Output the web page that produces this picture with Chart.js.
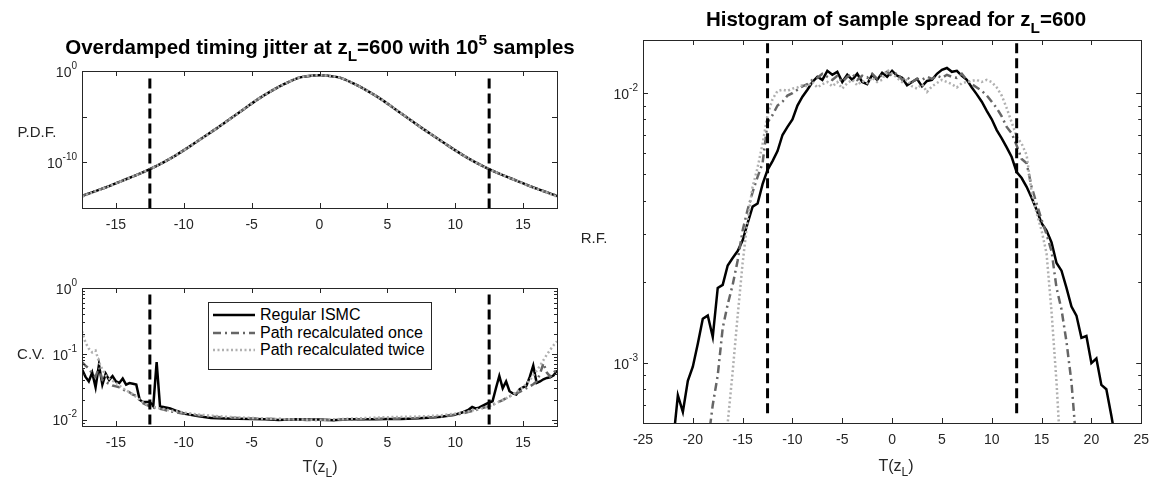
<!DOCTYPE html>
<html><head><meta charset="utf-8">
<script src="https://cdn.jsdelivr.net/npm/chart.js@4.4.1/dist/chart.umd.min.js"></script>
<style>
html,body{margin:0;padding:0;background:#fff;}
#wrap{position:relative;width:1158px;height:485px;overflow:hidden;font-family:"Liberation Sans",Arial,Helvetica,sans-serif;color:#000;}
#wrap canvas{position:absolute;left:0;top:0;}
.lbl{position:absolute;white-space:nowrap;transform:translate(-50%,-50%);line-height:1;}
.title{font-weight:bold;color:#000;font-size:20.5px;}
.ylab{font-size:15px;color:#262626;}
.xlab{font-size:16px;color:#262626;}
.sub{font-size:0.75em;position:relative;top:0.45em;}
.sup{font-size:0.75em;position:relative;top:-0.6em;}
#legend{position:absolute;left:208px;top:302px;width:222px;height:66px;border:1px solid #262626;background:#fff;font-size:16px;color:#000;z-index:5;}
.row{position:absolute;left:0;width:222px;height:18px;}
.row svg{position:absolute;left:4px;top:0;}
.row span{position:absolute;left:51px;top:0;white-space:nowrap;line-height:18px;}
</style></head>
<body><div id="wrap">
<canvas id="cA" width="1158" height="485"></canvas>
<canvas id="cB" width="1158" height="485"></canvas>
<canvas id="cC" width="1158" height="485"></canvas>

<div class="lbl title" style="left:320px;top:47px">Overdamped timing jitter at z<span class="sub">L</span>=600 with 10<span class="sup">5</span> samples</div>
<div class="lbl title" style="left:896px;top:19px">Histogram of sample spread for z<span class="sub">L</span>=600</div>
<div class="lbl ylab" style="left:37px;top:131px">P.D.F.</div>
<div class="lbl ylab" style="left:31px;top:353px">C.V.</div>
<div class="lbl ylab" style="left:594px;top:237px">R.F.</div>
<div class="lbl xlab" style="left:320px;top:467px">T(z<span class="sub">L</span>)</div>
<div class="lbl xlab" style="left:896px;top:466px">T(z<span class="sub">L</span>)</div>

<div id="legend">
  <div class="row" style="top:3px"><svg width="42" height="18"><line x1="0" y1="9" x2="42" y2="9" stroke="#000" stroke-width="2.5"/></svg><span>Regular ISMC</span></div>
  <div class="row" style="top:20.5px"><svg width="42" height="18"><line x1="0" y1="9" x2="42" y2="9" stroke="#666" stroke-width="2.5" stroke-dasharray="8 4 2 4"/></svg><span>Path recalculated once</span></div>
  <div class="row" style="top:38px"><svg width="42" height="18"><line x1="0" y1="9" x2="42" y2="9" stroke="#b0b0b0" stroke-width="2.5" stroke-dasharray="2 2.5"/></svg><span>Path recalculated twice</span></div>
</div>
</div>
<script>
// ---------------- DATA ----------------
const seriesNames = ['Regular ISMC', 'Path recalculated once', 'Path recalculated twice'];
const dashT = [-12.5, 12.5];

// Top-left: P.D.F.
const pdfT = [-17.5,-16.5,-15.5,-14.5,-13.5,-12.5,-11.5,-10.5,-9.5,-8.5,-7.5,-6.5,-5.5,-4.5,-3.5,-2.5,-1.5,-0.5,0,
              0.5,1.5,2.5,3.5,4.5,5.5,6.5,7.5,8.5,9.5,10.5,11.5,12.5,13.5,14.5,15.5,16.5,17.5];
const pdfRegular = [2.0e-14,7.1e-14,2.5e-13,1.0e-12,4.0e-12,1.8e-11,1.0e-10,7.1e-10,6.3e-9,6.3e-8,6.3e-7,7.1e-6,7.9e-5,8.9e-4,7.1e-3,4.3e-2,0.19,0.32,0.34,
                    0.32,0.19,4.3e-2,7.1e-3,8.9e-4,7.9e-5,7.1e-6,6.3e-7,6.3e-8,6.3e-9,7.1e-10,1.0e-10,1.8e-11,4.0e-12,1.0e-12,2.5e-13,7.1e-14,2.0e-14];
const pdfOnce    = [2.2e-14,7.3e-14,2.5e-13,1.0e-12,4.0e-12,1.8e-11,1.0e-10,7.1e-10,6.3e-9,6.3e-8,6.3e-7,7.1e-6,7.9e-5,8.9e-4,7.1e-3,4.3e-2,0.19,0.32,0.34,
                    0.32,0.19,4.3e-2,7.1e-3,8.9e-4,7.9e-5,7.1e-6,6.3e-7,6.3e-8,6.3e-9,7.1e-10,1.0e-10,1.8e-11,4.0e-12,1.0e-12,2.5e-13,7.3e-14,2.2e-14];
const pdfTwice   = [1.7e-14,6.6e-14,2.4e-13,1.0e-12,4.0e-12,1.8e-11,1.0e-10,7.1e-10,6.3e-9,6.3e-8,6.3e-7,7.1e-6,7.9e-5,8.9e-4,7.1e-3,4.3e-2,0.19,0.32,0.34,
                    0.32,0.19,4.3e-2,7.1e-3,8.9e-4,7.9e-5,7.1e-6,6.3e-7,6.3e-8,6.3e-9,7.1e-10,1.0e-10,1.8e-11,4.0e-12,1.0e-12,2.4e-13,6.6e-14,1.7e-14];
const pdfXTicks = [-15,-10,-5,0,5,10,15];
const pdfYMajor = [1e-15,1e-10,1e-5,1];
const pdfYLabels = [1e-10,1];
const pdfDashY = [0.15, 1e-15];

// Bottom-left: C.V.
const cvT = [-17.5,-17.25,-17,-16.75,-16.5,-16.25,-16,-15.75,-15.5,-15.25,
             -15,-14.75,-14.5,-14.25,-14,-13.75,-13.5,-13.25,-13,-12.75,
             -12.5,-12.25,-12,-11.75,-11.5,-11.25,-11,-10.5,-10,-9,
             -8,-7,-6,-5,-4,-3,-2,-1,0,1,
             2,3,4,5,6,7,8,9,10,10.5,
             11,11.25,11.5,11.75,12,12.25,12.5,12.75,13,13.25,
             13.5,13.75,14,14.25,14.5,14.75,15,15.25,15.5,15.75,
             16,16.25,16.5,16.75,17,17.25,17.5];
const cvRegular = [0.058,0.045,0.038,0.052,0.031,0.068,0.034,0.050,0.040,0.046,
                   0.038,0.036,0.042,0.034,0.036,0.035,0.034,0.020,0.0185,0.0185,
                   0.0185,0.016,0.075,0.0158,0.0156,0.0152,0.0148,0.0135,0.0124,0.0113,
                   0.0106,0.0104,0.0103,0.0102,0.0101,0.0099,0.0101,0.0100,0.0100,0.0098,
                   0.0101,0.0101,0.0101,0.0102,0.0102,0.0104,0.0107,0.0111,0.0119,0.0128,
                   0.0142,0.0156,0.0148,0.0152,0.0162,0.0172,0.0182,0.0190,0.030,0.046,
                   0.030,0.038,0.027,0.025,0.024,0.029,0.031,0.033,0.045,0.066,
                   0.036,0.038,0.041,0.043,0.044,0.047,0.056];
const cvOnce = [0.075,0.066,0.060,0.050,0.045,0.062,0.040,0.037,0.035,0.033,
                0.032,0.031,0.029,0.027,0.026,0.024,0.023,0.020,0.0178,0.0168,
                0.0160,0.0155,0.0150,0.0146,0.0142,0.0138,0.0134,0.0128,0.0123,0.0116,
                0.0111,0.0108,0.0106,0.0104,0.0103,0.0102,0.0101,0.0099,0.0099,0.0098,
                0.0100,0.0101,0.0102,0.0103,0.0104,0.0105,0.0107,0.0111,0.0118,0.0124,
                0.0131,0.0135,0.0139,0.0145,0.0150,0.0155,0.0160,0.0168,0.0178,0.0188,
                0.0198,0.0212,0.0225,0.0238,0.0250,0.0265,0.0280,0.0300,0.0320,0.0345,
                0.0380,0.050,0.072,0.052,0.045,0.050,0.062];
const cvTwice = [0.22,0.15,0.12,0.105,0.112,0.075,0.058,0.047,0.042,0.039,
                 0.036,0.033,0.030,0.028,0.026,0.024,0.022,0.020,0.0183,0.0170,
                 0.0162,0.0157,0.0152,0.0148,0.0145,0.0141,0.0138,0.0133,0.0128,0.0120,
                 0.0115,0.0111,0.0108,0.0106,0.0104,0.0102,0.0101,0.0100,0.0099,0.0101,
                 0.0103,0.0105,0.0107,0.0109,0.0110,0.0111,0.0113,0.0117,0.0123,0.0128,
                 0.0134,0.0138,0.0142,0.0146,0.0150,0.0155,0.0160,0.0168,0.0177,0.0187,
                 0.0197,0.0210,0.0225,0.0242,0.0262,0.0285,0.031,0.035,0.040,0.047,
                 0.055,0.066,0.080,0.097,0.115,0.135,0.155];
const cvYMajor = [1e-2,1e-1,1];
const cvYMinor = [8e-3,9e-3,2e-2,3e-2,4e-2,5e-2,6e-2,7e-2,8e-2,9e-2,0.2,0.3,0.4,0.5,0.6,0.7,0.8,0.9];
const cvYLabels = [1e-2,1e-1,1];
const cvDashY = [0.8, 0.008];

// Right: R.F. histogram
const rfT = [-22.5,-22,-21.5,-21,-20.5,-20,-19.5,-19,-18.5,-18,
             -17.5,-17,-16.5,-16,-15.5,-15,-14.5,-14,-13.5,-13,
             -12.5,-12,-11.5,-11,-10.5,-10,-9.5,-9,-8.5,-8,
             -7.5,-7,-6.5,-6,-5.5,-5,-4.5,-4,-3.5,-3,
             -2.5,-2,-1.5,-1,-0.5,0,0.5,1,1.5,2,
             2.5,3,3.5,4,4.5,5,5.5,6,6.5,7,
             7.5,8,8.5,9,9.5,10,10.5,11,11.5,12,
             12.5,13,13.5,14,14.5,15,15.5,16,16.5,17,
             17.5,18,18.5,19,19.5,20,20.5,21,21.5,22,
             22.5];
const rfRegular = [null,5.0e-4,7.6e-4,6.6e-4,8.6e-4,9.7e-4,1.18e-3,1.46e-3,1.50e-3,1.25e-3,
                   1.90e-3,1.95e-3,2.30e-3,2.45e-3,2.60e-3,2.85e-3,3.30e-3,3.80e-3,3.90e-3,4.60e-3,
                   5.20e-3,5.60e-3,6.10e-3,7.00e-3,7.50e-3,8.00e-3,9.00e-3,9.70e-3,1.03e-2,1.10e-2,
                   1.15e-2,1.12e-2,1.21e-2,1.17e-2,1.20e-2,1.10e-2,1.17e-2,1.12e-2,1.18e-2,1.10e-2,
                   1.08e-2,1.17e-2,1.12e-2,1.19e-2,1.15e-2,1.21e-2,1.16e-2,1.14e-2,1.07e-2,1.10e-2,
                   1.13e-2,1.06e-2,1.11e-2,1.12e-2,1.18e-2,1.22e-2,1.24e-2,1.20e-2,1.21e-2,1.16e-2,
                   1.12e-2,1.05e-2,9.9e-3,9.3e-3,8.6e-3,8.0e-3,7.3e-3,6.8e-3,6.3e-3,5.8e-3,
                   5.1e-3,4.85e-3,4.5e-3,4.1e-3,3.7e-3,3.3e-3,3.1e-3,2.8e-3,2.35e-3,2.2e-3,
                   1.9e-3,1.62e-3,1.50e-3,1.24e-3,1.26e-3,1.0e-3,1.04e-3,8.3e-4,8.0e-4,6.4e-4,
                   5.0e-4];
const rfOnce = [null,null,null,null,null,null,null,null,5.0e-4,7.0e-4,
                9.0e-4,1.35e-3,1.65e-3,1.95e-3,2.4e-3,3.1e-3,3.7e-3,4.3e-3,4.9e-3,5.5e-3,
                7.8e-3,8.3e-3,9.0e-3,9.3e-3,9.8e-3,1.0e-2,1.03e-2,1.06e-2,1.08e-2,1.12e-2,
                1.14e-2,1.18e-2,1.15e-2,1.12e-2,1.16e-2,1.10e-2,1.15e-2,1.18e-2,1.12e-2,1.16e-2,
                1.14e-2,1.18e-2,1.13e-2,1.17e-2,1.20e-2,1.16e-2,1.19e-2,1.12e-2,1.15e-2,1.10e-2,
                1.13e-2,1.12e-2,1.15e-2,1.13e-2,1.16e-2,1.14e-2,1.17e-2,1.15e-2,1.14e-2,1.18e-2,
                1.12e-2,1.08e-2,1.05e-2,1.02e-2,9.8e-3,9.3e-3,8.8e-3,8.2e-3,7.5e-3,7.1e-3,
                6.4e-3,5.7e-3,5.5e-3,4.5e-3,3.9e-3,3.4e-3,3.0e-3,2.6e-3,1.9e-3,1.58e-3,
                1.2e-3,8.5e-4,5.0e-4,null,null,null,null,null,null,null,
                null];
const rfTwice = [null,null,null,null,null,null,null,null,null,null,
                 null,4.0e-4,6.0e-4,9.3e-4,1.5e-3,2.35e-3,3.4e-3,4.5e-3,5.3e-3,6.5e-3,
                 8.3e-3,9.5e-3,1.02e-2,1.03e-2,1.02e-2,1.04e-2,1.05e-2,1.07e-2,1.06e-2,1.10e-2,
                 1.05e-2,1.08e-2,1.10e-2,1.06e-2,1.10e-2,1.04e-2,1.09e-2,1.12e-2,1.07e-2,1.11e-2,
                 1.09e-2,1.14e-2,1.10e-2,1.12e-2,1.22e-2,1.18e-2,1.14e-2,1.10e-2,1.12e-2,1.06e-2,
                 1.04e-2,1.08e-2,1.01e-2,1.06e-2,1.09e-2,1.12e-2,1.10e-2,1.08e-2,1.05e-2,1.09e-2,
                 1.10e-2,1.11e-2,1.12e-2,1.10e-2,1.12e-2,1.10e-2,1.05e-2,9.8e-3,8.8e-3,7.8e-3,
                 6.9e-3,6.5e-3,5.9e-3,4.3e-3,3.6e-3,3.1e-3,2.55e-3,1.55e-3,8.5e-4,4.0e-4,
                 null,null,null,null,null,null,null,null,null,null,
                 null];
const rfXTicks = [-25,-20,-15,-10,-5,0,5,10,15,20,25];
const rfYMajor = [1e-3,1e-2];
const rfYMinor = [7e-4,8e-4,9e-4,2e-3,3e-3,4e-3,5e-3,6e-3,7e-3,8e-3,9e-3];
const rfYLabels = [1e-3,1e-2];
const rfDashY = [1.53e-2, 6.3e-4];

// ---------------- RENDERING ----------------
const FONT = '"Liberation Sans", Arial, Helvetica, sans-serif';
const AX = '#262626';
const XH = 40;

const boxPlugin = {
  id: 'matlabBox',
  afterDatasetsDraw(chart, args, o) {
    const {ctx, chartArea: a} = chart;
    const x = chart.scales.x, y = chart.scales.y;
    ctx.save();
    ctx.strokeStyle = AX; ctx.lineWidth = 1;
    ctx.beginPath();
    o.xTicks.forEach(v => {
      const p = Math.round(x.getPixelForValue(v)) + 0.5;
      ctx.moveTo(p, a.bottom); ctx.lineTo(p, a.bottom - o.tickLen);
      ctx.moveTo(p, a.top); ctx.lineTo(p, a.top + o.tickLen);
    });
    const yt = (vals, len) => vals.forEach(v => {
      const p = Math.round(y.getPixelForValue(v)) + 0.5;
      ctx.moveTo(a.left, p); ctx.lineTo(a.left + len, p);
      ctx.moveTo(a.right, p); ctx.lineTo(a.right - len, p);
    });
    yt(o.yMajor, o.tickLen);
    yt(o.yMinor || [], o.minorLen);
    ctx.stroke();
    ctx.strokeRect(Math.round(a.left) + 0.5, Math.round(a.top) + 0.5,
                   Math.round(a.right - a.left), Math.round(a.bottom - a.top));
    ctx.fillStyle = AX; ctx.textBaseline = 'middle'; ctx.textAlign = 'left';
    o.yLabels.forEach(v => {
      const e = String(Math.round(Math.log10(v)));
      const p = y.getPixelForValue(v);
      ctx.font = '14px ' + FONT; const wb = ctx.measureText('10').width;
      ctx.font = '10px ' + FONT; const we = ctx.measureText(e).width;
      const xr = a.left - 5;
      ctx.font = '14px ' + FONT; ctx.fillText('10', xr - we - wb, p + 2);
      ctx.font = '10px ' + FONT; ctx.fillText(e, xr - we, p - 5);
    });
    ctx.restore();
  }
};

const pts = (xs, ys) => xs.map((x, i) => ({x: x, y: ys[i]}));
const styles = [
  {borderColor: '#000000', borderWidth: 2.5, borderDash: [], order: 3},
  {borderColor: '#666666', borderWidth: 2.5, borderDash: [8, 4, 2, 4], order: 2},
  {borderColor: '#b0b0b0', borderWidth: 2.5, borderDash: [2, 2.5], order: 1}
];
function seriesSets(xs, arrs, smooth) {
  return arrs.map((ys, i) => Object.assign({
    label: seriesNames[i], data: pts(xs, ys), pointRadius: 0, fill: false,
    tension: smooth ? 0.4 : 0, cubicInterpolationMode: smooth ? 'monotone' : 'default'
  }, styles[i]));
}
function dashSets(yr) {
  return dashT.map(t => ({
    label: 'limit', data: pts([t, t], yr), borderColor: '#000', borderWidth: 3,
    borderDash: [10, 5], pointRadius: 0, fill: false, order: 0
  }));
}

function panel(id, pad, xMin, xMax, xTicks, yMin, yMax, datasets, box) {
  return new Chart(document.getElementById(id), {
    type: 'line',
    data: {datasets: datasets},
    options: {
      responsive: false, animation: false, events: [],
      layout: {padding: pad},
      plugins: {legend: {display: false}, tooltip: {enabled: false}, matlabBox: box},
      scales: {
        x: {
          type: 'linear', min: xMin, max: xMax,
          grid: {display: false, drawTicks: false}, border: {display: false},
          afterBuildTicks: s => { s.ticks = xTicks.map(v => ({value: v})); },
          afterFit: s => { s.height = XH; },
          ticks: {autoSkip: false, maxRotation: 0, padding: 9, color: AX,
                  font: {family: FONT, size: 14}, callback: v => String(v)}
        },
        y: {type: 'logarithmic', min: yMin, max: yMax, display: false}
      }
    },
    plugins: [boxPlugin]
  });
}

panel('cA', {left: 82, top: 71, right: 1158 - 557, bottom: 485 - 208 - XH}, -17.5, 17.5, pdfXTicks, 1e-15, 1,
  dashSets(pdfDashY).concat(seriesSets(pdfT, [pdfRegular, pdfOnce, pdfTwice], true)),
  {xTicks: pdfXTicks, yMajor: pdfYMajor, yMinor: [], yLabels: pdfYLabels, tickLen: 5, minorLen: 3});

panel('cB', {left: 82, top: 288, right: 1158 - 557, bottom: 485 - 426 - XH}, -17.5, 17.5, pdfXTicks, 0.008, 1,
  dashSets(cvDashY).concat(seriesSets(cvT, [cvRegular, cvOnce, cvTwice], false)),
  {xTicks: pdfXTicks, yMajor: cvYMajor, yMinor: cvYMinor, yLabels: cvYLabels, tickLen: 5, minorLen: 3});

panel('cC', {left: 643, top: 40, right: 1158 - 1149, bottom: 485 - 423 - XH}, -25, 25, rfXTicks, 6.3e-4, 1.574e-2,
  dashSets(rfDashY).concat(seriesSets(rfT, [rfRegular, rfOnce, rfTwice], false)),
  {xTicks: rfXTicks, yMajor: rfYMajor, yMinor: rfYMinor, yLabels: rfYLabels, tickLen: 5, minorLen: 3});
</script>
</body></html>
